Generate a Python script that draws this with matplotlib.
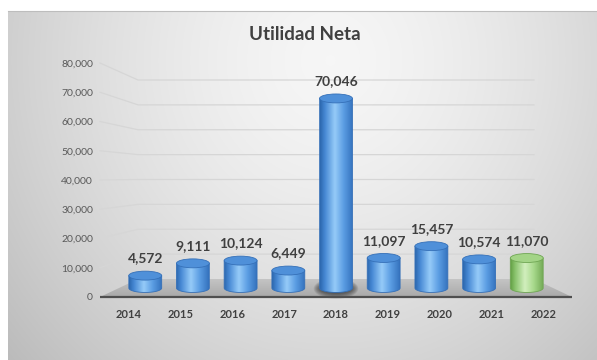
import numpy as np
import matplotlib
matplotlib.use("Agg")
import matplotlib.pyplot as plt
from matplotlib.colors import LinearSegmentedColormap
from matplotlib.patches import Ellipse, Polygon, PathPatch
from matplotlib.path import Path

plt.rcParams['font.family'] = ['Lato', 'DejaVu Sans']

# ---- data -------------------------------------------------------------
years = ['2014', '2015', '2016', '2017', '2018', '2019', '2020', '2021', '2022']
utilidad = [4572, 9111, 10124, 6449, 70046, 11097, 15457, 10574, 11070]
y_ticks = [0, 10000, 20000, 30000, 40000, 50000, 60000, 70000, 80000]
y_tick_labels = ['0', '10,000', '20,000', '30,000', '40,000',
                 '50,000', '60,000', '70,000', '80,000']
title = 'Utilidad Neta'
highlight_year = '2022'

# ---- figure & pseudo-3D planes ---------------------------------------
W, H = 597, 360
fig = plt.figure(figsize=(W / 100, H / 100), dpi=100)
fig.patch.set_facecolor('white')


def add_box(left, right, top, bottom):
    """Axes placed by a pixel box measured from the top-left corner."""
    return fig.add_axes([left / W, 1 - bottom / H, (right - left) / W, (bottom - top) / H])


XLIM = (-0.55, len(years) - 0.45)
YLIM = (0, y_ticks[-1])

bg = add_box(8, 597, 11, 360)       # chart area background
back = add_box(138, 534, 80, 279)   # back wall (gridlines)
front = add_box(100, 572, 63, 297)  # front edge (axis labels)

# plane where the cylinders stand: XLIM spans 119..553 px, zero at 288 px,
# top at 71.5 px; the box is padded so cylinder bottoms and floor fit inside
m_left, m_right, m_top, m_zero = 119.0, 553.0, 71.5, 288.0
pad_x, pad_y = 26.0, 14.0
mid = add_box(m_left - pad_x, m_right + pad_x, m_top, m_zero + pad_y)
ux = (XLIM[1] - XLIM[0]) / (m_right - m_left)
uy = (YLIM[1] - YLIM[0]) / (m_zero - m_top)
MID_XLIM = (XLIM[0] - pad_x * ux, XLIM[1] + pad_x * ux)
MID_YLIM = (YLIM[0] - pad_y * uy, YLIM[1])

for z, ax in enumerate([bg, back, mid, front]):
    ax.set_zorder(z)
    ax.patch.set_visible(False)
    for s in ax.spines.values():
        s.set_visible(False)


def set_limits():
    for ax in (back, front):
        ax.set_xlim(*XLIM)
        ax.set_ylim(*YLIM)
        ax.set_autoscale_on(False)
    mid.set_xlim(*MID_XLIM)
    mid.set_ylim(*MID_YLIM)
    mid.set_autoscale_on(False)


set_limits()

# background: soft radial gray gradient
yy, xx = np.mgrid[11:360, 8:597]
r = np.sqrt(((xx - 330) / 320.0) ** 2 + ((yy - 60) / 340.0) ** 2)
g = np.clip(0.965 - 0.15 * r ** 1.5, 0, 1)
bg.imshow(np.dstack([g, g, g]), extent=[0, 1, 0, 1], aspect='auto', origin='upper')
bg.set_xlim(0, 1)
bg.set_ylim(0, 1)
bg.set_xticks([])
bg.set_yticks([])
bg.spines['top'].set_visible(True)
bg.spines['top'].set_color('#bdbdbd')
bg.spines['top'].set_linewidth(0.8)


def to_axes(src, dst, pt):
    return dst.transData.inverted().transform(src.transData.transform(pt))


# gridlines: slanted side-wall part + horizontal back-wall part
for v in y_ticks[1:]:
    p = to_axes(front, back, (XLIM[0], v))
    back.plot([p[0], XLIM[0], XLIM[1]], [p[1], v, v], color='#d6d6d6', lw=0.9,
              clip_on=False, solid_joinstyle='miter')

# floor
corners = [to_axes(front, mid, (XLIM[0], 0)), to_axes(front, mid, (XLIM[1], 0)),
           to_axes(back, mid, (XLIM[1], 0)), to_axes(back, mid, (XLIM[0], 0))]
floor = Polygon(corners, closed=True, facecolor='none', edgecolor='none', zorder=1)
mid.add_patch(floor)
fy = np.array([c[1] for c in corners])
fx = np.array([c[0] for c in corners])
floor_img = mid.imshow(np.linspace(0, 1, 64)[:, None],
                       cmap=LinearSegmentedColormap.from_list('floor', ['#c4c4c4', '#a9a9a9']),
                       extent=[fx.min(), fx.max(), fy.min(), fy.max()],
                       origin='upper', aspect='auto', zorder=1)
floor_img.set_clip_path(floor)

front.plot(list(XLIM), [0, 0], color='#4f4f4f', lw=1.6, solid_capstyle='butt', clip_on=False)

# ---- cylinders --------------------------------------------------------
blue_body = LinearSegmentedColormap.from_list(
    'blue', [(0, '#2c67ad'), (0.15, '#4688d4'), (0.45, '#96cbf8'), (0.72, '#5b9de3'), (1, '#3472bd')])
green_body = LinearSegmentedColormap.from_list(
    'green', [(0, '#5f9b40'), (0.15, '#88c26b'), (0.45, '#d2efbe'), (0.72, '#a8d98c'), (1, '#74ab57')])

bar_w = 0.69
cap_h = 3300
tallest = int(np.argmax(utilidad))

for i, (yr, v) in enumerate(zip(years, utilidad)):
    green = yr == highlight_year
    cmap = green_body if green else blue_body
    top_fc = '#a3d487' if green else '#4f90d9'
    edge = '#6fa653' if green else '#3570b8'

    if i == tallest:
        for k in range(6):
            mid.add_patch(Ellipse((i, -200), bar_w * (1.0 + 0.07 * k), cap_h * (1.2 + 0.22 * k),
                                  facecolor='black', edgecolor='none', alpha=0.10, zorder=1.5))

    x0, x1 = i - bar_w / 2, i + bar_w / 2
    t = np.linspace(np.pi, 2 * np.pi, 48)
    arc = np.column_stack([i + bar_w / 2 * np.cos(t), cap_h / 2 * np.sin(t)])
    verts = np.vstack([[x0, v], arc, [x1, v], [x0, v]])
    body = PathPatch(Path(verts, closed=True), facecolor='none', edgecolor=edge, lw=0.6, zorder=3)
    mid.add_patch(body)
    im = mid.imshow(np.linspace(0, 1, 256)[None, :], cmap=cmap,
                    extent=[x0, x1, -cap_h / 2, v], aspect='auto', zorder=2,
                    interpolation='bicubic')
    im.set_clip_path(body)
    mid.add_patch(Ellipse((i, v), bar_w, cap_h, facecolor=top_fc, edgecolor=edge, lw=0.6,
                          zorder=4, clip_on=False))

    mid.annotate(f'{v:,}', (i, v), xytext=(0, 8), textcoords='offset points',
                 ha='center', va='bottom', fontsize=10, fontweight='bold', color='#404040',
                 zorder=5, annotation_clip=False)

set_limits()

mid.set_xticks([])
mid.set_yticks([])
back.set_xticks([])
back.set_yticks([])

# ---- axis labels ------------------------------------------------------
front.set_yticks(y_ticks, y_tick_labels)
front.tick_params(axis='y', length=0, pad=5, labelsize=7.5, labelcolor='#595959')
front.set_xticks(range(len(years)), years)
front.tick_params(axis='x', length=0, pad=9, labelsize=8, labelcolor='#404040')
for lab in front.get_xticklabels():
    lab.set_fontweight('bold')

fig.text(305 / W, 1 - 34 / H, title, ha='center', va='center',
         fontsize=13.5, fontweight='bold', color='#404040')

fig.savefig('out.png', dpi=100)
